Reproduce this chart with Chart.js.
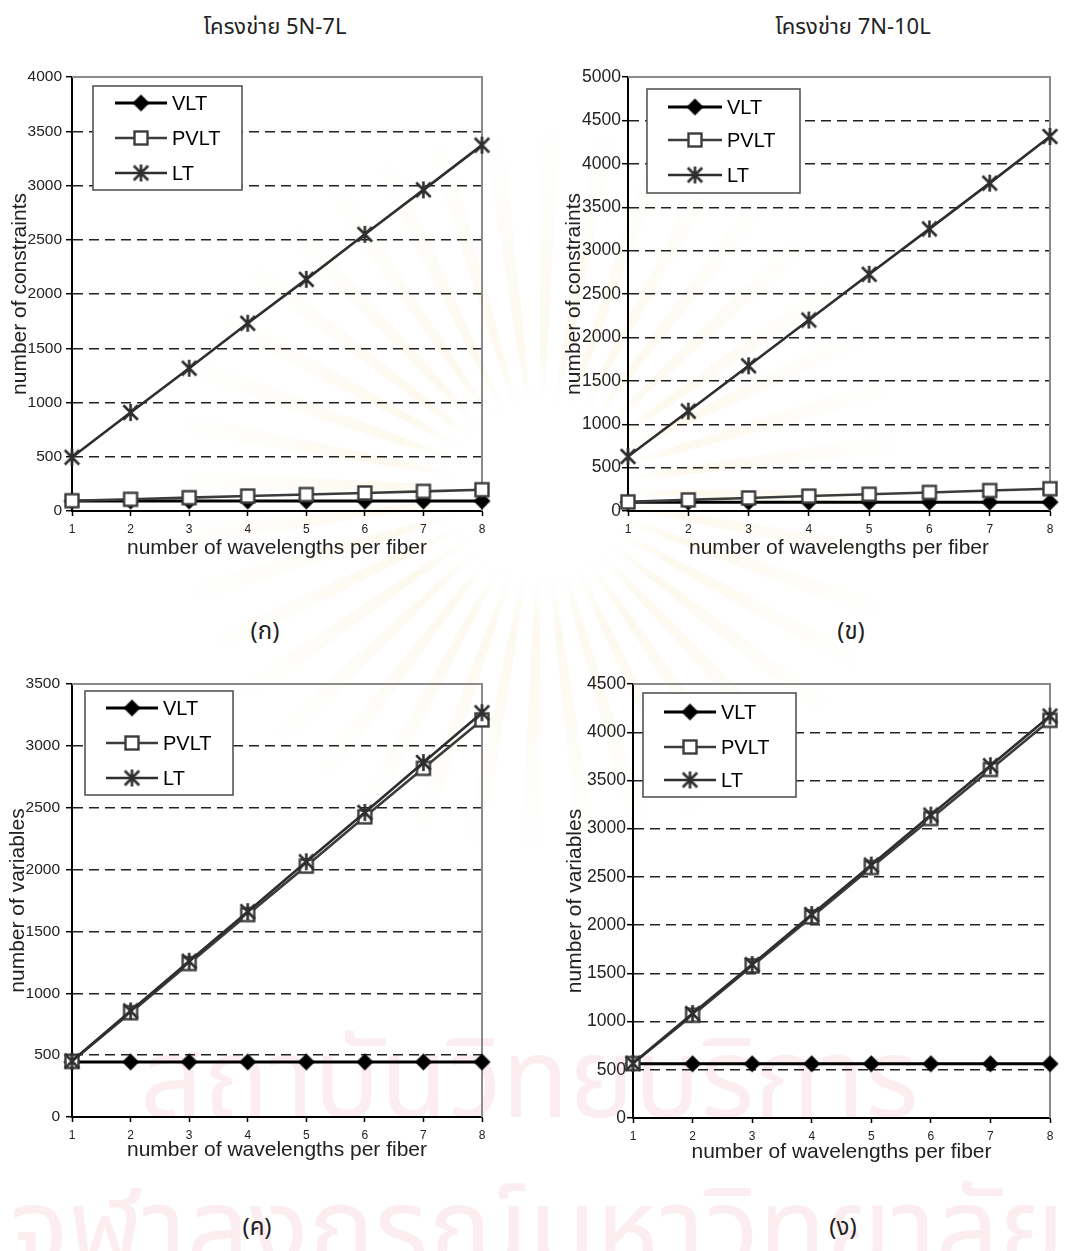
<!DOCTYPE html>
<html>
<head>
<meta charset="utf-8">
<script src="https://cdn.jsdelivr.net/npm/chart.js@4.4.1/dist/chart.umd.min.js"></script>
<style>
  html, body { margin: 0; padding: 0; background: #fff; }
  body { width: 1065px; height: 1251px; position: relative; overflow: hidden;
         font-family: "Liberation Sans", Arial, Helvetica, sans-serif; }
  .panel { position: absolute; }
  .label { position: absolute; white-space: nowrap; transform: translate(-50%, -50%);
           font-family: "Noto Sans Thai", "Loma", "Garuda", "Laksaman", "Norasi", "Waree", "Liberation Sans Narrow", "Liberation Sans", sans-serif;
           color: #222; }
  .head { font-size: 22px; }
  .cap { font-size: 24px; }
  .wm { position: absolute; white-space: nowrap; color: #fcedf0; font-size: 110px;
        font-family: "Noto Sans Thai", "Loma", "Garuda", "Laksaman", "Norasi", "Liberation Sans", sans-serif; }
  .rays { position: absolute; left: 170px; top: 120px; width: 740px; height: 740px; border-radius: 50%;
          background: repeating-conic-gradient(from 0deg, rgba(245,228,180,0.22) 0deg 3deg, rgba(255,255,255,0) 3deg 9deg);
          -webkit-mask-image: radial-gradient(circle, rgba(0,0,0,0) 16%, rgba(0,0,0,1) 28%, rgba(0,0,0,0) 70%);
          mask-image: radial-gradient(circle, rgba(0,0,0,0) 16%, rgba(0,0,0,1) 28%, rgba(0,0,0,0) 70%); }
</style>
</head>
<body>
<div class="rays"></div>
<div class="wm" style="left:140px; top:1000px;">สถาบันวิทยบริการ</div>
<div class="wm" style="left:10px; top:1150px;">จุฬาลงกรณ์มหาวิทยาลัย</div>

<div class="label head" style="left:275px; top:27px;">โครงข่าย 5N-7L</div>
<div class="label head" style="left:853px; top:27px;">โครงข่าย 7N-10L</div>
<div class="label cap" style="left:265px; top:632px;">(ก)</div>
<div class="label cap" style="left:851px; top:632px;">(ข)</div>
<div class="label cap" style="left:257px; top:1228px;">(ค)</div>
<div class="label cap" style="left:843px; top:1228px;">(ง)</div>

<canvas id="c1" class="panel" width="530" height="520" style="left:0px; top:60px;"></canvas>
<canvas id="c2" class="panel" width="525" height="520" style="left:540px; top:60px;"></canvas>
<canvas id="c3" class="panel" width="530" height="520" style="left:0px; top:660px;"></canvas>
<canvas id="c4" class="panel" width="525" height="520" style="left:540px; top:660px;"></canvas>

<script>
// x categories: number of wavelengths per fiber
const wavelengths = ['1', '2', '3', '4', '5', '6', '7', '8'];
const seriesNames = ['VLT', 'PVLT', 'LT'];

// number of constraints, network 5N-7L
const cons5N7L_VLT  = [92, 92, 92, 92, 92, 92, 92, 92];
const cons5N7L_PVLT = [95, 108, 123, 138, 152, 166, 181, 196];
const cons5N7L_LT   = [495, 908, 1316, 1730, 2135, 2550, 2960, 3372];

// number of constraints, network 7N-10L
const cons7N10L_VLT  = [102, 102, 102, 102, 102, 102, 102, 102];
const cons7N10L_PVLT = [105, 128, 150, 172, 193, 214, 236, 257];
const cons7N10L_LT   = [628, 1150, 1673, 2200, 2727, 3250, 3777, 4315];

// number of variables, network 5N-7L
const vars5N7L_VLT  = [445, 445, 445, 445, 445, 445, 445, 445];
const vars5N7L_PVLT = [450, 843, 1240, 1636, 2028, 2426, 2818, 3210];
const vars5N7L_LT   = [452, 857, 1259, 1660, 2063, 2462, 2865, 3268];

// number of variables, network 7N-10L
const vars7N10L_VLT  = [562, 562, 562, 562, 562, 562, 562, 562];
const vars7N10L_PVLT = [565, 1065, 1577, 2085, 2597, 3105, 3614, 4123];
const vars7N10L_LT   = [567, 1083, 1591, 2110, 2622, 3141, 3653, 4168];

// y-axis ranges and step
const yMaxCons5N7L = 4000;
const yMaxCons7N10L = 5000;
const yMaxVars5N7L = 3500;
const yMaxVars7N10L = 4500;
const yStep = 500;

const xTitle = 'number of wavelengths per fiber';
const yTitleCons = 'number of constraints';
const yTitleVars = 'number of variables';

const FONT = '"Liberation Sans", Arial, Helvetica, sans-serif';

// ---- marker images (Excel-style diamond, hollow square, asterisk) ----
function diamondMarker(half, color) {
  const s = Math.ceil(half * 2 + 2);
  const c = document.createElement('canvas'); c.width = c.height = s;
  const g = c.getContext('2d'); const m = s / 2;
  g.fillStyle = color;
  g.beginPath(); g.moveTo(m, m - half); g.lineTo(m + half, m); g.lineTo(m, m + half); g.lineTo(m - half, m); g.closePath();
  g.fill();
  return c;
}
function squareMarker(side, color, lw) {
  const s = Math.ceil(side + lw + 2);
  const c = document.createElement('canvas'); c.width = c.height = s;
  const g = c.getContext('2d'); const o = (s - side) / 2;
  g.fillStyle = '#fff'; g.fillRect(o, o, side, side);
  g.strokeStyle = color; g.lineWidth = lw; g.strokeRect(o, o, side, side);
  return c;
}
function starMarker(size, color, lw) {
  const s = Math.ceil(size + 2);
  const c = document.createElement('canvas'); c.width = c.height = s;
  const g = c.getContext('2d'); const m = s / 2; const r = size / 2;
  g.strokeStyle = color; g.lineWidth = lw;
  g.beginPath();
  g.moveTo(m - r * 0.85, m - r * 0.85); g.lineTo(m + r * 0.85, m + r * 0.85);
  g.moveTo(m + r * 0.85, m - r * 0.85); g.lineTo(m - r * 0.85, m + r * 0.85);
  g.moveTo(m, m - r); g.lineTo(m, m + r);
  g.stroke();
  return c;
}

const markVLT = diamondMarker(8.5, '#000');
const markPVLT = squareMarker(13, '#3c3c3c', 2.4);
const markLT = starMarker(17, '#2e2e2e', 2.6);

// ---- boxed legend with line + marker samples ----
const boxLegend = {
  id: 'boxLegend',
  afterDraw(chart, args, o) {
    const ctx = chart.ctx;
    ctx.save();
    ctx.fillStyle = '#fff';
    ctx.fillRect(o.x, o.y, o.w, o.h);
    ctx.strokeStyle = '#555'; ctx.lineWidth = 1.6;
    ctx.strokeRect(o.x, o.y, o.w, o.h);
    chart.data.datasets.forEach((ds, i) => {
      const yy = o.rows[i];
      ctx.strokeStyle = ds.borderColor; ctx.lineWidth = ds.borderWidth;
      ctx.beginPath(); ctx.moveTo(o.x1, yy); ctx.lineTo(o.x2, yy); ctx.stroke();
      const img = ds.pointStyle;
      ctx.drawImage(img, (o.x1 + o.x2) / 2 - img.width / 2, yy - img.height / 2);
      ctx.fillStyle = '#000';
      ctx.font = '20px ' + FONT;
      ctx.textBaseline = 'middle';
      ctx.fillText(ds.label, o.tx, yy + 1);
    });
    ctx.restore();
  }
};

// ---- gray top and right frame of the plot area ----
const plotFrame = {
  id: 'plotFrame',
  beforeDatasetsDraw(chart) {
    const { ctx, chartArea: a } = chart;
    ctx.save();
    ctx.strokeStyle = '#8a8a8a'; ctx.lineWidth = 2;
    ctx.beginPath();
    ctx.moveTo(a.left, a.top); ctx.lineTo(a.right, a.top); ctx.lineTo(a.right, a.bottom);
    ctx.stroke();
    ctx.restore();
  }
};

function makeChart(id, vlt, pvlt, lt, yMax, yTitle, L) {
  const ctx = document.getElementById(id);
  return new Chart(ctx, {
    type: 'line',
    data: {
      labels: wavelengths,
      datasets: [
        { label: seriesNames[0], data: vlt, borderColor: '#000', borderWidth: 3,
          pointStyle: markVLT, order: 3 },
        { label: seriesNames[1], data: pvlt, borderColor: '#3c3c3c', borderWidth: 2.6,
          pointStyle: markPVLT, order: 2 },
        { label: seriesNames[2], data: lt, borderColor: '#2e2e2e', borderWidth: 2.6,
          pointStyle: markLT, order: 1 }
      ].map(d => Object.assign(d, { clip: false, tension: 0, fill: false, pointRadius: 8, pointHoverRadius: 8 }))
    },
    options: {
      responsive: false,
      animation: false,
      events: [],
      layout: { padding: { left: 0, top: L.padTop, right: L.padRight, bottom: 0 } },
      plugins: {
        legend: { display: false },
        tooltip: { enabled: false },
        boxLegend: L.legend
      },
      scales: {
        x: {
          type: 'category',
          offset: false,
          afterFit: s => { s.height = L.xHeight; },
          grid: { drawOnChartArea: false, drawTicks: true, tickLength: 5, tickColor: '#000', tickWidth: 1.5 },
          border: { display: true, color: '#000', width: 2 },
          ticks: { color: '#222', font: { family: FONT, size: 12 }, padding: 6, maxRotation: 0, autoSkip: false },
          title: { display: true, text: xTitle, color: '#222', font: { family: FONT, size: 21 },
                   padding: { top: 0, bottom: L.xTitlePad } }
        },
        y: {
          min: 0, max: yMax,
          afterFit: s => { s.width = L.yWidth; },
          grid: {
            drawOnChartArea: true, drawTicks: true, tickLength: 6, tickWidth: 1.5, tickColor: '#000', lineWidth: 1.4,
            color: c => (c.tick && (c.tick.value === 0 || c.tick.value === yMax)) ? 'rgba(0,0,0,0)' : '#222'
          },
          border: { display: true, color: '#000', width: 2, dash: [10, 6] },
          ticks: { stepSize: yStep, color: '#222', font: { family: FONT, size: L.yFont }, padding: L.yTickPad,
                   callback: v => String(v) },
          title: { display: true, text: yTitle, color: '#222', font: { family: FONT, size: 21 },
                   padding: { top: L.yTitlePad, bottom: 0 } }
        }
      }
    },
    plugins: [plotFrame, boxLegend]
  });
}

makeChart('c1', cons5N7L_VLT, cons5N7L_PVLT, cons5N7L_LT, yMaxCons5N7L, yTitleCons, {
  padTop: 17, padRight: 48, xHeight: 69, yWidth: 72, yFont: 15.5, yTickPad: 4, xTitlePad: 19, yTitlePad: 8,
  legend: { x: 93, y: 26, w: 149, h: 104, rows: [43, 78, 113], x1: 115, x2: 167, tx: 172 }
});
makeChart('c2', cons7N10L_VLT, cons7N10L_PVLT, cons7N10L_LT, yMaxCons7N10L, yTitleCons, {
  padTop: 17, padRight: 15, xHeight: 69, yWidth: 88, yFont: 17.5, yTickPad: 1, xTitlePad: 19, yTitlePad: 22,
  legend: { x: 107, y: 29, w: 153, h: 104, rows: [47, 80, 115], x1: 128, x2: 182, tx: 187 }
});
makeChart('c3', vars5N7L_VLT, vars5N7L_PVLT, vars5N7L_LT, yMaxVars5N7L, yTitleVars, {
  padTop: 24, padRight: 48, xHeight: 63, yWidth: 72, yFont: 15.5, yTickPad: 6, xTitlePad: 17, yTitlePad: 6,
  legend: { x: 85, y: 31, w: 148, h: 104, rows: [48, 83, 118], x1: 106, x2: 158, tx: 163 }
});
makeChart('c4', vars7N10L_VLT, vars7N10L_PVLT, vars7N10L_LT, yMaxVars7N10L, yTitleVars, {
  padTop: 24, padRight: 15, xHeight: 62, yWidth: 93, yFont: 17.5, yTickPad: 1, xTitlePad: 15, yTitlePad: 23,
  legend: { x: 103, y: 33, w: 153, h: 104, rows: [52, 87, 120], x1: 124, x2: 176, tx: 181 }
});
</script>
</body>
</html>
